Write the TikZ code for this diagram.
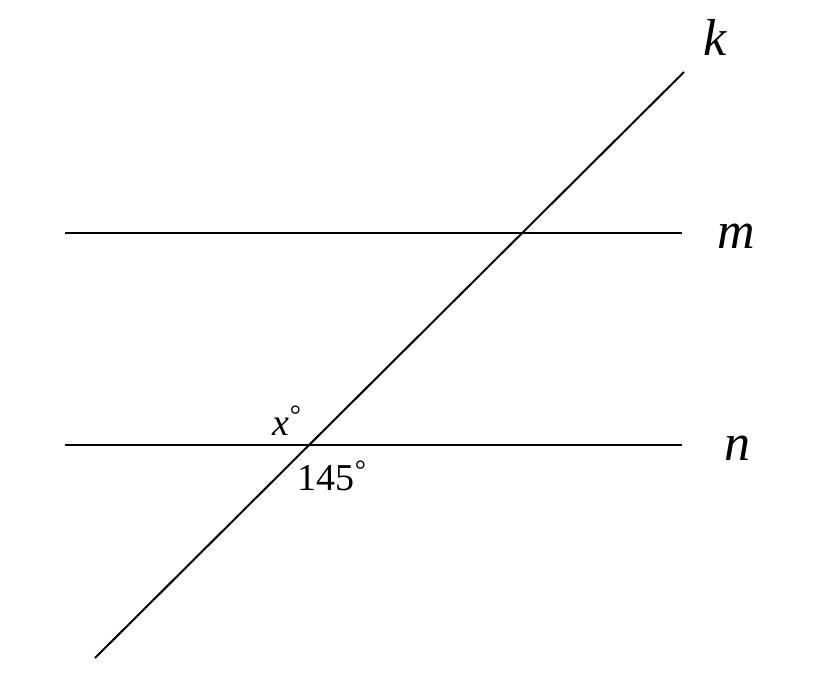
\documentclass[tikz,border=0pt]{standalone}
\usepackage{fontspec}
\setmainfont{Liberation Serif}
\usetikzlibrary{positioning}
\newcommand{\degsign}{\raisebox{0.28em}{\fontsize{14}{14}\selectfont°}}

\begin{document}
\begin{tikzpicture}[x=0.5pt,y=-0.5pt,
  line/.style={line width=1pt},
  lbl/.style={font=\fontsize{26}{30}\selectfont\itshape,inner sep=0pt},
  ang/.style={font=\fontsize{19}{22}\selectfont,inner sep=0pt}]
\useasboundingbox (0,0) rectangle (822,673);
% lines
\coordinate (mL) at (65,233);
\coordinate (mR) at (682,233);
\coordinate (nL) at (65,445);
\coordinate (nR) at (682,445);
\coordinate (kA) at (95,658);
\coordinate (kB) at (684,72);
\draw[line] (mL) -- (mR);
\draw[line] (nL) -- (nR);
\draw[line] (kA) -- (kB);
% labels
\node[lbl] (k) at (715,37) {k};
\node[lbl] (m) at (736,236) {m};
\node[lbl] (n) at (737,448) {n};
\node[ang] (x) at (287,421) {\textit{x}\degsign};
\node[ang] (a) at (332,476) {145\degsign};
\end{tikzpicture}
\end{document}
